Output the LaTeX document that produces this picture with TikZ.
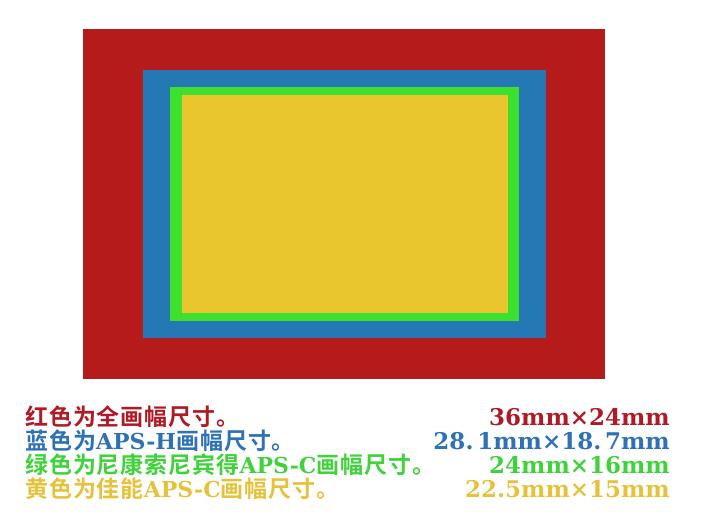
\documentclass[tikz,border=0pt]{standalone}
\usepackage{fontspec}
\newfontfamily\cjk{Noto Sans CJK SC Bold}[LetterSpace=4]
\newfontfamily\latn{DejaVu Serif Bold}
\definecolor{fullred}{HTML}{B51B1B}
\definecolor{apshblue}{HTML}{2478B4}
\definecolor{apscgreen}{HTML}{3DE02E}
\definecolor{canonyellow}{HTML}{EAC62E}
\definecolor{redtxt}{HTML}{AE1B26}
\definecolor{bluetxt}{HTML}{2E72B5}
\definecolor{greentxt}{HTML}{3FD23B}
\definecolor{yellowtxt}{HTML}{E6C23C}
\newcommand{\aps}[1]{{\fontsize{22}{24}\latn #1}}
\tikzset{
  lbl/.style={inner sep=0pt, anchor=base west, font=\fontsize{23}{24}\selectfont},
  size/.style={inner sep=0pt, anchor=base east, font=\fontsize{23}{24}\selectfont\latn}
}
\begin{document}
\begin{tikzpicture}[x=1pt,y=-1pt]
    \useasboundingbox (0,0) rectangle (708,524);
    % sensor frames
    \fill [fullred] (83,29) rectangle (605,379);
    \fill [apshblue] (143,70) rectangle (546,338);
    \fill [apscgreen] (170,87) rectangle (519,321);
    \fill [canonyellow] (182,95) rectangle (508,313);
    % legend
    \node [lbl, text=redtxt] (fullL) at (25,425) {\cjk 红色为全画幅尺寸。};
    \node [lbl, text=bluetxt] (apshL) at (25,449) {\cjk 蓝色为\aps{APS-H}画幅尺寸。};
    \node [lbl, text=greentxt] (apscL) at (25,473) {\cjk 绿色为尼康索尼宾得\aps{APS-C}画幅尺寸。};
    \node [lbl, text=yellowtxt] (canonL) at (25,497) {\cjk 黄色为佳能\aps{APS-C}画幅尺寸。};
    \node [size, text=redtxt] (fullR) at (670,425) {36mm×24mm};
    \node [size, text=bluetxt] (apshR) at (670,449) {28.\,1mm×18.\,7mm};
    \node [size, text=greentxt] (apscR) at (670,473) {24mm×16mm};
    \node [size, text=yellowtxt] (canonR) at (670,497) {22.5mm×15mm};
\end{tikzpicture}
\end{document}
